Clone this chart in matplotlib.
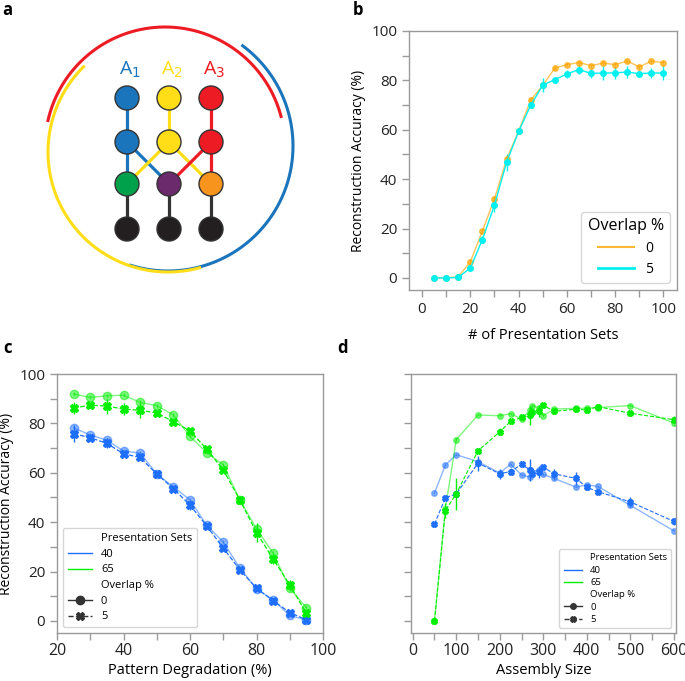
import numpy as np
import matplotlib
matplotlib.use("Agg")
import matplotlib.pyplot as plt
from matplotlib.lines import Line2D

plt.rcParams['font.family'] = ['Open Sans', 'DejaVu Sans']

# ---- panel b: reconstruction accuracy vs presentation sets ----
pres_sets = [5, 10, 15, 20, 25, 30, 35, 40, 45, 50, 55, 60, 65, 70, 75, 80, 85, 90, 95, 100]
acc_b_ov0 = [0, 0, 0.5, 6.5, 19, 32, 48, 59.5, 72, 78, 85, 86.4, 87.2, 86, 87, 86.4, 87.8, 85.5, 87.8, 87.2]
acc_b_ov5 = [0, 0, 0.2, 4, 15.5, 29.5, 46.8, 59.3, 69.9, 78.1, 80.3, 82.6, 84.4, 82.8, 83, 83, 83.4, 82.7, 83, 83]
err_b_ov0 = [0, 0, 0.3, 0.8, 1, 1.2, 1.5, 1, 1, 1, 0.8, 0.8, 0.8, 0.8, 0.8, 0.8, 0.8, 0.8, 0.8, 0.8]
err_b_ov5 = [0, 0, 0.3, 1, 1.5, 3, 3.5, 1, 1, 3, 1, 1.5, 2, 2, 3, 2.5, 2.5, 1.5, 2, 3]

# ---- panel c: reconstruction accuracy vs pattern degradation ----
degradation = [25, 30, 35, 40, 45, 50, 55, 60, 65, 70, 75, 80, 85, 90, 95]
acc_c_65_ov0 = [91.9, 90.5, 91.2, 91.4, 88.5, 87.2, 83.4, 74.7, 68.2, 63.2, 49, 37.3, 27.4, 13.2, 5.4]
acc_c_65_ov5 = [86.2, 87.4, 87, 85.8, 85.3, 84.2, 80.7, 77, 69.6, 61.2, 49, 35.8, 25.1, 14.6, 3.1]
acc_c_40_ov0 = [78.2, 75.3, 73.2, 68.8, 68, 59.5, 54.3, 49, 38.8, 31.9, 21.4, 13, 8.5, 2.2, 0.4]
acc_c_40_ov5 = [75.8, 74.2, 71.9, 67.7, 66.2, 59.5, 53.6, 46.9, 38.5, 29.5, 20.7, 13.2, 8.2, 3.4, 0.4]
err_c_65_ov0 = [0.8, 0.8, 0.8, 0.8, 0.8, 0.8, 0.8, 0.8, 0.8, 0.8, 0.8, 1.5, 1, 1, 1]
err_c_65_ov5 = [2.5, 1, 3, 2.5, 3, 1.2, 1, 1, 1, 1, 1.5, 4, 2, 2, 1.5]
err_c_40_ov0 = [0.8, 0.8, 0.8, 0.8, 0.8, 0.8, 0.8, 0.8, 0.8, 0.8, 0.8, 0.8, 0.8, 0.8, 0.8]
err_c_40_ov5 = [3.5, 1.5, 2, 1, 1, 1, 1, 2, 1, 1, 1, 1, 1, 1, 0.5]

# ---- panel d: reconstruction accuracy vs assembly size ----
assembly = [50, 75, 100, 150, 200, 225, 250, 270, 275, 290, 300, 325, 375, 400, 425, 500, 600]
acc_d_65_ov0 = [0, 45.5, 73.4, 83.4, 83.1, 83.9, 81.8, 85.3, 87.2, 86.2, 83.1, 85.8, 86.1, 86.1, 86.4, 87.2, 80.1]
acc_d_65_ov5 = [0, 44.7, 51.5, 68.9, 76.6, 80.8, 82.4, 83.2, 84.5, 84.9, 87.3, 84.9, 85.7, 85.4, 86.8, 84.1, 81.5]
acc_d_40_ov0 = [51.8, 63.1, 67.3, 64.5, 59.9, 63.5, 59.1, 58.2, 60.5, 61.2, 59.3, 57.7, 54.2, 55.1, 54.5, 46.8, 36.5]
acc_d_40_ov5 = [39.2, 49.9, 51.4, 63.9, 59.6, 60.5, 63.4, 61.1, 59.3, 60.4, 62.2, 59.6, 57.7, 54.1, 52.4, 48.2, 40.3]
err_d_65_ov0 = [0, 1, 0.5, 0.5, 0.5, 0.5, 0.5, 1, 0.5, 1, 0.5, 0.5, 0.5, 0.5, 0.5, 0.5, 1]
err_d_65_ov5 = [0, 3, 6.4, 1, 1.5, 1, 1, 4, 1, 2.5, 1, 1, 1, 1, 1, 1, 1.5]
err_d_40_ov0 = [0.5, 0.5, 0.5, 0.5, 0.5, 0.5, 0.5, 0.5, 0.5, 0.5, 0.5, 0.5, 0.5, 0.5, 0.5, 0.5, 0.5]
err_d_40_ov5 = [1, 1, 1, 3, 2, 1.5, 1, 4.4, 1, 2.5, 1, 2, 2.5, 1, 1, 2, 1.5]

# ---- panel a: assembly diagram ----
assembly_labels = ["1", "2", "3"]
assembly_colors = ["#1b75bc", "#ffde17", "#ed1c24"]
row2_colors = ["#00a14b", "#6b2a6b", "#f7941d"]
black_node = "#231f20"

SPINE = "#9a9a9a"
BLUE = "#1f6fff"
GREEN = "#00ee00"


def style_axes(ax):
    for s in ax.spines.values():
        s.set_color(SPINE)
        s.set_linewidth(1.0)
    ax.tick_params(direction='out', length=5, width=1, color=SPINE,
                   labelsize=11, labelcolor="#222222")


def ticks_every(ax, axis, step, label_step, lo, hi):
    vals = np.arange(lo, hi + step / 2, step)
    labels = [f"{int(v)}" if v % label_step == 0 else "" for v in vals]
    if axis == 'x':
        ax.set_xticks(vals)
        ax.set_xticklabels(labels)
    else:
        ax.set_yticks(vals)
        ax.set_yticklabels(labels)


fig = plt.figure(figsize=(6.85, 6.81), dpi=100)

# ---------------- a ----------------
ax_a = fig.add_axes([0, 1 - 300 / 681, 300 / 685, 300 / 681])
ax_a.set_xlim(0, 300)
ax_a.set_ylim(300, 0)
ax_a.axis('off')

cols_x = [127, 169, 211]
rows_y = [98, 142, 184, 229]


def arc(cx, cy, r, a0, a1, color):
    t = np.radians(np.linspace(a0, a1, 200))
    ax_a.plot(cx + r * np.cos(t), cy - r * np.sin(t), color=color, lw=2.2,
              solid_capstyle='butt')


arc(165, 147, 120, 14, 168, assembly_colors[2])
arc(168, 146, 125, 54, -108, assembly_colors[0])
arc(168, 152, 120, 134, 286, assembly_colors[1])

lw_edge = 2.3
for i in range(3):
    c = assembly_colors[i]
    ax_a.plot([cols_x[i]] * 2, rows_y[0:2], color=c, lw=lw_edge, zorder=1)
    ax_a.plot([cols_x[i]] * 2, rows_y[2:4], color="#333333", lw=lw_edge, zorder=1)
ax_a.plot([cols_x[0]] * 2, rows_y[1:3], color=assembly_colors[0], lw=lw_edge, zorder=1)
ax_a.plot([cols_x[2]] * 2, rows_y[1:3], color=assembly_colors[2], lw=lw_edge, zorder=1)
ax_a.plot([cols_x[0], cols_x[1]], rows_y[1:3], color=assembly_colors[0], lw=lw_edge, zorder=1)
ax_a.plot([cols_x[1], cols_x[0]], rows_y[1:3], color=assembly_colors[1], lw=lw_edge, zorder=1)
ax_a.plot([cols_x[1], cols_x[2]], rows_y[1:3], color=assembly_colors[1], lw=lw_edge, zorder=1)
ax_a.plot([cols_x[2], cols_x[1]], rows_y[1:3], color=assembly_colors[2], lw=lw_edge, zorder=1)

node_colors = [assembly_colors, assembly_colors, row2_colors, [black_node] * 3]
for r, y in enumerate(rows_y):
    for i, x in enumerate(cols_x):
        ax_a.add_patch(plt.Circle((x, y), 12, facecolor=node_colors[r][i],
                                  edgecolor="#333333", lw=1.0, zorder=3))
for i, x in enumerate(cols_x):
    ax_a.text(x + 3, 70, "A$_{" + assembly_labels[i] + "}$", color=assembly_colors[i],
              fontsize=14, ha='center', va='center')

# ---------------- b ----------------
ax_b = fig.add_axes([409 / 685, 1 - 290 / 681, 268 / 685, 259 / 681])
style_axes(ax_b)
ax_b.errorbar(pres_sets, acc_b_ov0, yerr=err_b_ov0, color="orange", alpha=0.65,
              marker='o', ms=4, lw=1, elinewidth=1, capsize=0)
ax_b.errorbar(pres_sets, acc_b_ov5, yerr=err_b_ov5, color="#00f0f0",
              marker='o', ms=4, lw=1, elinewidth=1, capsize=0)
ax_b.set_xlim(-5.4, 105.6)
ax_b.set_ylim(-4.9, 100)
ticks_every(ax_b, 'x', 10, 20, 0, 100)
ticks_every(ax_b, 'y', 10, 20, 0, 100)
ax_b.set_xlabel("# of Presentation Sets", fontsize=10.5, labelpad=8)
ax_b.set_ylabel("Reconstruction Accuracy (%)", fontsize=10)
hb = [Line2D([], [], color="orange", alpha=0.8, lw=1.5),
      Line2D([], [], color="#00f0f0", lw=2)]
leg = ax_b.legend(hb, ["0", "5"], title="Overlap %", loc='lower right',
                  fontsize=10, title_fontsize=11.5, handlelength=2.6,
                  borderpad=0.45, labelspacing=0.45)
leg.get_frame().set_edgecolor("#cccccc")

# ---------------- c ----------------
ax_c = fig.add_axes([57 / 685, 1 - 633 / 681, 266 / 685, 259 / 681])
style_axes(ax_c)
ax_c.errorbar(degradation, acc_c_40_ov0, yerr=err_c_40_ov0, color=BLUE, alpha=0.5,
              marker='o', ms=6, lw=1, elinewidth=1, capsize=0)
ax_c.errorbar(degradation, acc_c_65_ov0, yerr=err_c_65_ov0, color=GREEN, alpha=0.5,
              marker='o', ms=6, lw=1, elinewidth=1, capsize=0)
ax_c.errorbar(degradation, acc_c_40_ov5, yerr=err_c_40_ov5, color=BLUE,
              marker='X', ms=6, lw=0.9, ls='--', elinewidth=1, capsize=0)
ax_c.errorbar(degradation, acc_c_65_ov5, yerr=err_c_65_ov5, color=GREEN,
              marker='X', ms=6, lw=0.9, ls='--', elinewidth=1, capsize=0)
ax_c.set_xlim(20, 100)
ax_c.set_ylim(-4.9, 100)
ticks_every(ax_c, 'x', 10, 20, 20, 100)
ticks_every(ax_c, 'y', 10, 20, 0, 100)
ax_c.tick_params(axis='x', labelsize=11.5, pad=2)
ax_c.set_xlabel("Pattern Degradation (%)", fontsize=10.5, labelpad=3)
ax_c.set_ylabel("Reconstruction Accuracy (%)", fontsize=10)


def section_legend(ax, fs, loc, ms, spacing, hlen):
    blank = Line2D([], [], color='none')
    handles = [blank,
               Line2D([], [], color=BLUE, lw=1),
               Line2D([], [], color=GREEN, lw=1),
               blank,
               Line2D([], [], color="#333333", lw=1, marker='o', ms=ms),
               Line2D([], [], color="#333333", lw=1, ls='--', marker='X', ms=ms)]
    labels = ["Presentation Sets", "40", "65", "Overlap %", "0", "5"]
    lg = ax.legend(handles, labels, loc=loc, fontsize=fs, handlelength=hlen,
                   labelspacing=spacing, borderpad=0.45)
    lg.get_frame().set_edgecolor("#cccccc")
    return lg


section_legend(ax_c, 8, 'lower left', 6, 0.42, 2.2)

# ---------------- d ----------------
ax_d = fig.add_axes([411 / 685, 1 - 633 / 681, 265 / 685, 259 / 681])
style_axes(ax_d)
ax_d.errorbar(assembly, acc_d_40_ov0, yerr=err_d_40_ov0, color=BLUE, alpha=0.5,
              marker='o', ms=4, lw=1, elinewidth=1, capsize=0)
ax_d.errorbar(assembly, acc_d_65_ov0, yerr=err_d_65_ov0, color=GREEN, alpha=0.5,
              marker='o', ms=4, lw=1, elinewidth=1, capsize=0)
ax_d.errorbar(assembly, acc_d_40_ov5, yerr=err_d_40_ov5, color=BLUE,
              marker='X', ms=4, lw=0.8, ls='--', elinewidth=1, capsize=0)
ax_d.errorbar(assembly, acc_d_65_ov5, yerr=err_d_65_ov5, color=GREEN,
              marker='X', ms=4, lw=0.8, ls='--', elinewidth=1, capsize=0)
ax_d.set_xlim(-4, 605)
ax_d.set_ylim(-4.9, 100)
ticks_every(ax_d, 'x', 50, 100, 0, 600)
ax_d.set_yticks(np.arange(0, 101, 10))
ax_d.set_yticklabels([])
ax_d.tick_params(axis='x', labelsize=11.5, pad=2)
ax_d.set_xlabel("Assembly Size", fontsize=10.5, labelpad=3)
section_legend(ax_d, 6.8, 'lower right', 4, 0.35, 2.0)

# panel letters
for letter, (px, py) in zip("abcd", [(7, 10), (358, 10), (7, 348), (342, 348)]):
    fig.text(px / 685, 1 - py / 681, letter, fontsize=12, fontweight='bold',
             ha='center', va='center')

fig.savefig("out.png", dpi=100)
